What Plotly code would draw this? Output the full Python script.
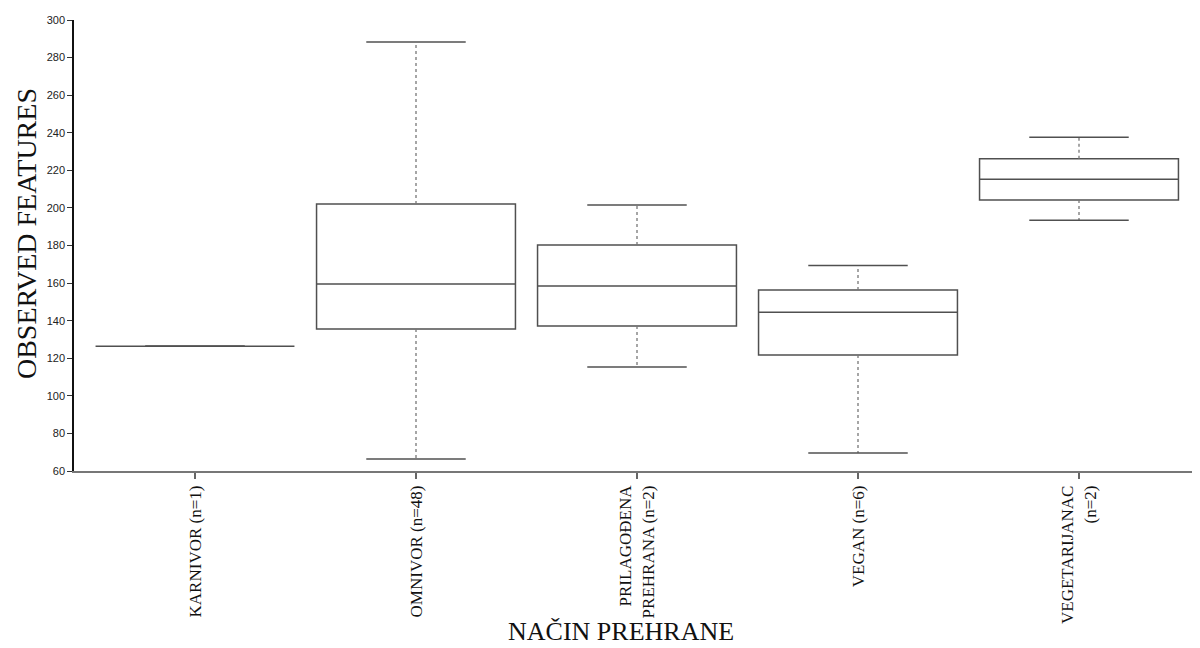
import plotly.graph_objects as go

categories = ["KARNIVOR (n=1)", "OMNIVOR (n=48)", "PRILAGOĐENA<br>PREHRANA (n=2)", "VEGAN (n=6)", "VEGETARIJANAC<br>(n=2)"]
lower = [126.4, 66.4, 115.3, 69.6, 193.4]
q1 = [126.4, 135.6, 137.2, 121.7, 204.2]
median = [126.4, 159.5, 158.5, 144.5, 215.2]
q3 = [126.4, 202.1, 180.3, 156.3, 226.2]
upper = [126.4, 288.3, 201.6, 169.3, 237.6]
y_ticks = list(range(60, 301, 20))

BOX_W = 0.9
CAP_HALF = BOX_W / 4
box_col = "#505050"
wh_col = "#777777"

fig = go.Figure()
pos = list(range(len(categories)))

for i in pos:
    # dotted whiskers
    fig.add_trace(go.Scatter(x=[i, i, None, i, i], y=[q3[i], upper[i], None, q1[i], lower[i]],
                             mode="lines", line=dict(color=wh_col, width=1.3, dash="dot"),
                             hoverinfo="skip", showlegend=False))
    # caps
    fig.add_trace(go.Scatter(x=[i - CAP_HALF, i + CAP_HALF, None, i - CAP_HALF, i + CAP_HALF],
                             y=[upper[i], upper[i], None, lower[i], lower[i]],
                             mode="lines", line=dict(color=box_col, width=1.5),
                             hoverinfo="skip", showlegend=False))

fig.add_trace(go.Box(
    x=pos, q1=q1, median=median, q3=q3, lowerfence=q1, upperfence=q3,
    width=BOX_W, whiskerwidth=0, fillcolor="rgba(255,255,255,0)",
    line=dict(color=box_col, width=1.5), showlegend=False, boxpoints=False,
))

fig.update_layout(
    width=1192, height=640,
    margin=dict(l=66, r=0, t=12, b=177),
    paper_bgcolor="white", plot_bgcolor="white",
    showlegend=False,
    annotations=[
        dict(text="NAČIN PREHRANE", xref="paper", yref="paper", x=0.4858, y=-0.355,
             xanchor="center", yanchor="middle", showarrow=False,
             font=dict(family="Liberation Serif", size=26, color="#111")),
        dict(text="OBSERVED FEATURES", xref="paper", yref="paper", x=-0.0417, y=0.5255,
             xanchor="center", yanchor="middle", textangle=-90, showarrow=False,
             font=dict(family="Liberation Serif", size=28, color="#111")),
    ],
)
fig.update_xaxes(
    range=[-0.5475, 4.5475], tickmode="array", tickvals=pos, ticktext=categories,
    tickangle=-90, ticks="outside", ticklen=6, tickcolor="#666", tickwidth=1.5,
    showline=True, linecolor="#777", linewidth=1.5, showgrid=False, zeroline=False,
    tickfont=dict(family="Liberation Serif", size=17, color="#111"),
    automargin=False,
)
fig.update_yaxes(
    range=[60, 300], tickmode="array", tickvals=y_ticks,
    ticks="outside", ticklen=5, tickcolor="#333", tickwidth=1,
    showline=True, linecolor="#111", linewidth=1.5, showgrid=False, zeroline=False,
    tickfont=dict(family="Liberation Sans", size=11, color="#222"),
    automargin=False,
)

fig.write_html("out.html")
